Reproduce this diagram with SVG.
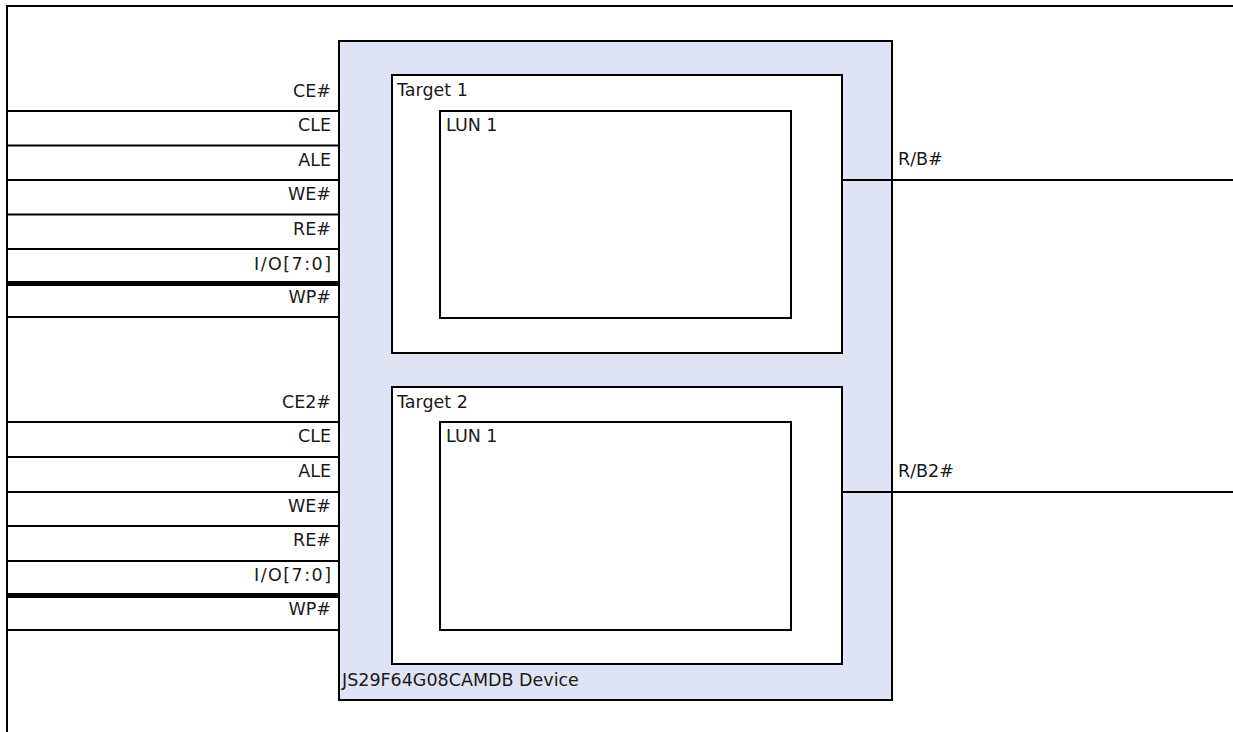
<svg xmlns="http://www.w3.org/2000/svg" width="1233" height="732" viewBox="0 0 1233 732">
<style>
.t{font-family:"DejaVu Sans","Liberation Sans",sans-serif;font-size:17.5px;fill:#1a1a1a}
.r{text-anchor:end}
.ln{stroke:#000;stroke-width:2;fill:none}
.bus{stroke:#000;stroke-width:5;fill:none}
.box{stroke:#000;stroke-width:2;fill:#fff}
.dev{stroke:#000;stroke-width:2;fill:#e0e3f3}
</style>
<rect width="1233" height="732" fill="#fff"/>
<g id="frame">
<path class="ln" d="M7,733 V6 H1234"/>
</g>
<g id="device">
<rect class="dev" x="339" y="41" width="553" height="659"/>
<text class="t" x="342" y="686">JS29F64G08CAMDB Device</text>
</g>
<g id="target1">
<rect class="box" x="392" y="75" width="450" height="278"/>
<text class="t" x="397" y="96">Target 1</text>
</g>
<g id="lun1a">
<rect class="box" x="440" y="111" width="351" height="207"/>
<text class="t" x="446" y="131">LUN 1</text>
</g>
<g id="target2">
<rect class="box" x="392" y="387" width="450" height="277"/>
<text class="t" x="397" y="408">Target 2</text>
</g>
<g id="lun1b">
<rect class="box" x="440" y="422" width="351" height="208"/>
<text class="t" x="446" y="442">LUN 1</text>
</g>
<g id="connectors">
<path class="ln" d="M7,111 H339 M7,145.5 H339 M7,180 H339 M7,214.5 H339 M7,249 H339 M7,317 H339"/>
<path class="bus" d="M7,283.5 H339"/>
<path class="ln" d="M7,422 H339 M7,457 H339 M7,492 H339 M7,526 H339 M7,561 H339 M7,630 H339"/>
<path class="bus" d="M7,595.5 H339"/>
<path class="ln" d="M842,180 H1234 M842,492 H1234"/>
</g>
<g id="labels">
<text class="t r" x="331" y="97">CE#</text>
<text class="t r" x="331" y="131">CLE</text>
<text class="t r" x="331" y="166">ALE</text>
<text class="t r" x="331" y="200">WE#</text>
<text class="t r" x="331" y="235">RE#</text>
<text class="t r" x="331" y="270" textLength="77" lengthAdjust="spacing">I/O[7:0]</text>
<text class="t r" x="331" y="303">WP#</text>
<text class="t r" x="331" y="408">CE2#</text>
<text class="t r" x="331" y="442">CLE</text>
<text class="t r" x="331" y="477">ALE</text>
<text class="t r" x="331" y="512">WE#</text>
<text class="t r" x="331" y="546">RE#</text>
<text class="t r" x="331" y="581" textLength="77" lengthAdjust="spacing">I/O[7:0]</text>
<text class="t r" x="331" y="615">WP#</text>
<text class="t" x="898" y="165">R/B#</text>
<text class="t" x="898" y="477">R/B2#</text>
</g>
</svg>
